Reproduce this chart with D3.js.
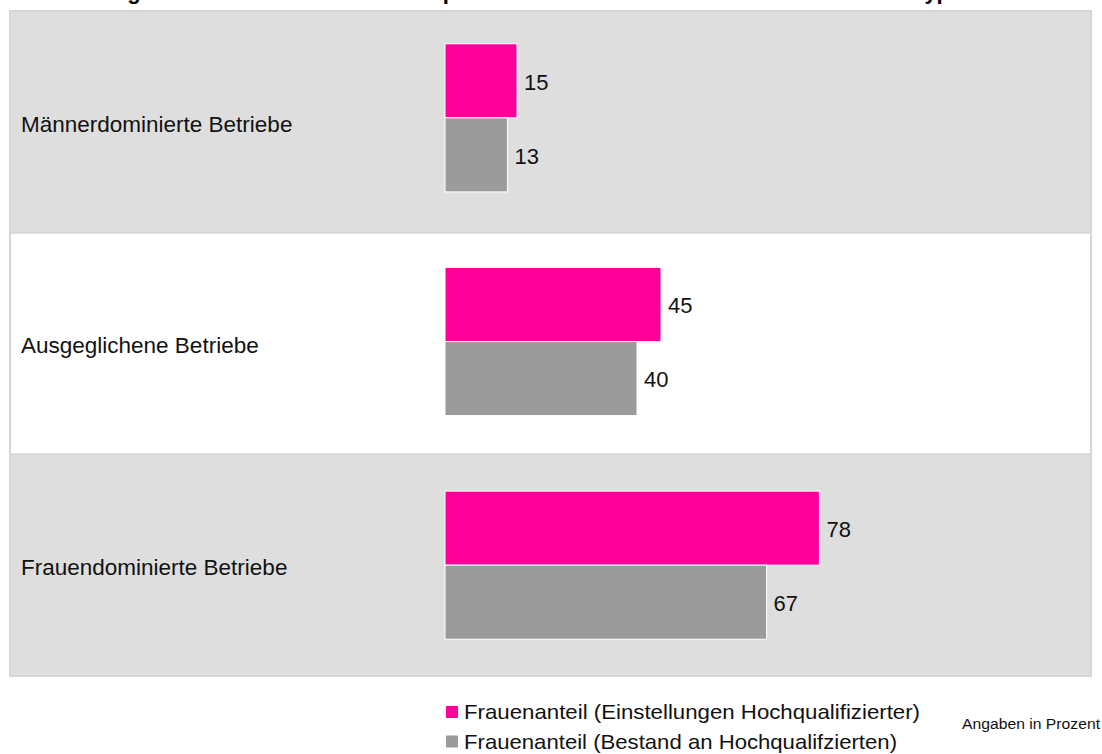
<!DOCTYPE html>
<html>
<head>
<meta charset="utf-8">
<script src="https://cdn.jsdelivr.net/npm/d3@7"></script>
<style>
  body { margin: 0; background: #fff; }
  svg { display: block; font-family: "Liberation Sans", Arial, sans-serif; }
</style>
</head>
<body>
<svg id="chart" width="1102" height="754"></svg>
<script>
// categories (top to bottom) and the two series, in percent
const categories = ['Männerdominierte Betriebe', 'Ausgeglichene Betriebe', 'Frauendominierte Betriebe'];
const seriesNames = ['Frauenanteil (Einstellungen Hochqualifizierter)', 'Frauenanteil (Bestand an Hochqualifzierten)'];
const einstellungen = [15, 45, 78];
const bestand = [13, 40, 67];
const titleText = 'Abbildung 5: Frauenanteile unter den Spitzenkräften der Betriebe nach dem Betriebstyp';
const noteText = 'Angaben in Prozent';

const colors = ['#ff0099', '#9b9b9b'];
const bandFill = ['#dedede', '#ffffff', '#dedede'];

const svg = d3.select('#chart');

// plot panel
const panel = { x0: 10, x1: 1091, y0: 11, y1: 676 };

// x scale: 0..100 percent
const x = d3.scaleLinear().domain([0, 100]).range([445, 925]);

// one band per category (background)
const y = d3.scaleBand()
    .domain(categories)
    .range([panel.y0, panel.y1])
    .padding(0);

// bar groups sit on a slightly wider grid than the backgrounds
const yBars = d3.scaleBand()
    .domain(categories)
    .range([6, 677])
    .padding(0);

// two bars inside each group
const yInner = d3.scaleBand()
    .domain([0, 1])
    .range([0, yBars.bandwidth()])
    .paddingInner(0)
    .paddingOuter(0.51);

// title, mostly above the visible area (only descenders show)
svg.append('text')
    .attr('x', 32).attr('y', -1.5)
    .attr('font-size', 22).attr('font-weight', 'bold')
    .attr('fill', '#000')
    .text(titleText);

// category bands
svg.append('g').selectAll('rect')
    .data(categories)
    .enter()
    .append('rect')
    .attr('x', panel.x0).attr('width', panel.x1 - panel.x0)
    .attr('y', d => y(d)).attr('height', y.bandwidth())
    .attr('fill', (d, i) => bandFill[i]);

// band separators
svg.append('g').selectAll('line')
    .data(categories.slice(1))
    .enter()
    .append('line')
    .attr('x1', panel.x0).attr('x2', panel.x1)
    .attr('y1', d => y(d)).attr('y2', d => y(d))
    .attr('stroke', '#d6d6d6').attr('stroke-width', 2);

// panel frame
svg.append('rect')
    .attr('x', panel.x0).attr('y', panel.y0)
    .attr('width', panel.x1 - panel.x0).attr('height', panel.y1 - panel.y0)
    .attr('fill', 'none').attr('stroke', '#d6d6d6').attr('stroke-width', 2);

// category labels
svg.append('g').selectAll('text')
    .data(categories)
    .enter()
    .append('text')
    .attr('x', 21)
    .attr('y', d => y(d) + y.bandwidth() / 2 + 2)
    .attr('dy', '0.35em')
    .attr('font-size', 22.5)
    .attr('fill', '#111')
    .text(d => d);

// bars
const rows = categories.map((c, i) => ({ cat: c, values: [einstellungen[i], bestand[i]] }));

const groups = svg.append('g').selectAll('g')
    .data(rows)
    .enter()
    .append('g')
    .attr('transform', d => `translate(0,${yBars(d.cat)})`);

groups.selectAll('rect')
    .data(d => d.values)
    .enter()
    .append('rect')
    .attr('x', x(0))
    .attr('y', (d, i) => yInner(i))
    .attr('width', d => x(d) - x(0))
    .attr('height', yInner.bandwidth())
    .attr('fill', (d, i) => colors[i])
    .attr('stroke', '#fff').attr('stroke-width', 1);

groups.selectAll('text')
    .data(d => d.values)
    .enter()
    .append('text')
    .attr('x', d => x(d) + 7)
    .attr('y', (d, i) => yInner(i) + yInner.bandwidth() / 2 + 1)
    .attr('dy', '0.35em')
    .attr('font-size', 22)
    .attr('fill', '#111')
    .text(d => d);

// legend
const legendWidths = [456, 433];
const legend = svg.append('g').attr('transform', 'translate(446,706)');
const items = legend.selectAll('g')
    .data(seriesNames)
    .enter()
    .append('g')
    .attr('transform', (d, i) => `translate(0,${i * 29.5})`);

items.append('rect')
    .attr('width', 12).attr('height', 12)
    .attr('fill', (d, i) => colors[i]);

items.append('text')
    .attr('x', 18).attr('y', 13)
    .attr('font-size', 21)
    .attr('textLength', (d, i) => legendWidths[i])
    .attr('lengthAdjust', 'spacingAndGlyphs')
    .attr('fill', '#111')
    .text(d => d);

// note
svg.append('text')
    .attr('x', 962).attr('y', 729)
    .attr('font-size', 14)
    .attr('textLength', 138).attr('lengthAdjust', 'spacingAndGlyphs')
    .attr('fill', '#111')
    .text(noteText);
</script>
</body>
</html>
